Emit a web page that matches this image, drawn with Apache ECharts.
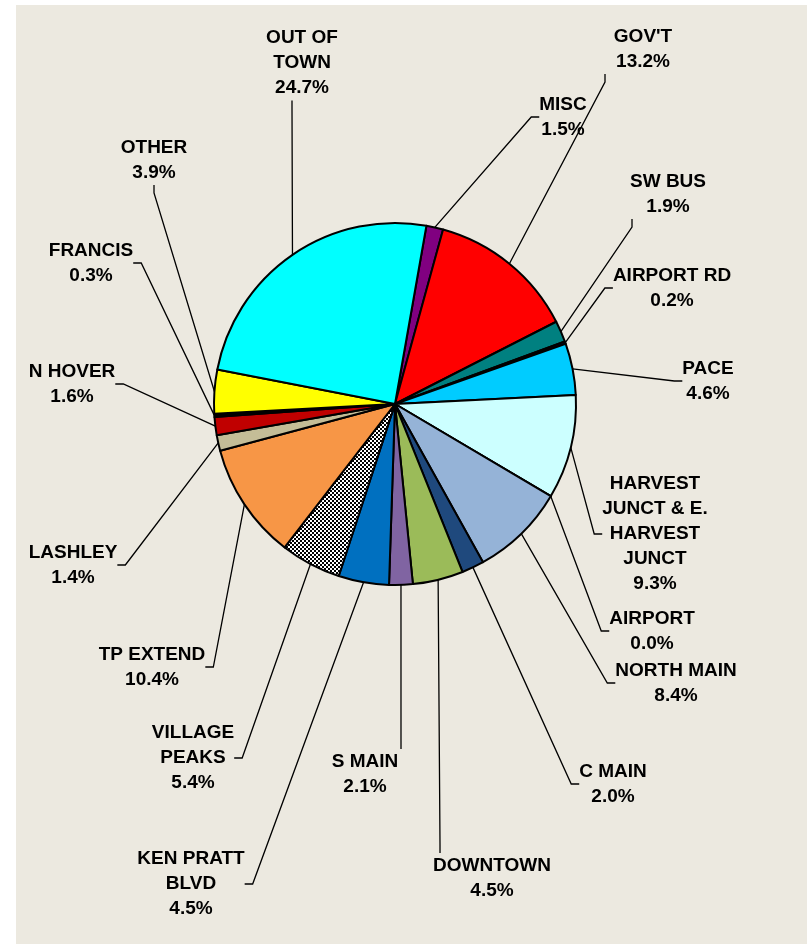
<!DOCTYPE html>
<html>
<head>
<meta charset="utf-8">
<script src="https://cdn.jsdelivr.net/npm/echarts@6/dist/echarts.min.js"></script>
<style>
    html, body { margin: 0; padding: 0; background: #fff; }
    #main {
        width: 807px;
        height: 944px;
        /* beige chart area, white strip on the left and top */
        background: linear-gradient(#ECE9E0, #ECE9E0) no-repeat 16px 5px / 791px 939px, #fff;
    }
</style>
</head>
<body>
<div id="main"></div>
<script>
// slices, clockwise from the MISC slice near 12 o'clock
const categories = ['MISC', "GOV'T", 'SW BUS', 'AIRPORT RD', 'PACE',
    'HARVEST\nJUNCT & E.\nHARVEST\nJUNCT', 'AIRPORT', 'NORTH MAIN', 'C MAIN', 'DOWNTOWN',
    'S MAIN', 'KEN PRATT\nBLVD', 'VILLAGE\nPEAKS', 'TP EXTEND', 'LASHLEY',
    'N HOVER', 'FRANCIS', 'OTHER', 'OUT OF\nTOWN'];
const shares = [1.5, 13.2, 1.9, 0.2, 4.6, 9.3, 0.0, 8.4, 2.0, 4.5,
    2.1, 4.5, 5.4, 10.4, 1.4, 1.6, 0.3, 3.9, 24.7];
const sliceColors = ['#800080', '#FF0000', '#008080', '#000080', '#00CCFF',
    '#CCFFFF', '#CCFFFF', '#95B3D7', '#1F497D', '#9BBB59',
    '#8064A2', '#0070C0', 'pattern', '#F79646', '#C4BD97',
    '#C00000', '#000000', '#FFFF00', '#00FFFF'];

// label text centres (px) around the pie
const labelCenters = [[563, 117], [643, 49], [668, 194], [672, 288], [708, 381],
    [655, 534], [652, 631], [676, 683], [613, 784], [492, 878],
    [365, 774], [191, 884], [193, 758], [152, 667], [73, 565],
    [72, 384], [91, 263], [154, 160], [302, 63]];
// invisible side padding [right, left] so the leader line meets the label
// on the same side as in the original
const labelPads = [[0, 0], [0, 76], [0, 72], [0, 0], [0, 0],
    [40, 0], [40, 0], [0, 0], [80, 0], [0, 104],
    [72, 0], [0, 130], [0, 100], [0, 80], [0, 0],
    [0, 0], [0, 0], [0, 0], [0, 20]];

// black / white checker for VILLAGE PEAKS
function makeChecker(){
    let c = document.createElement('canvas');
    c.width = 4; c.height = 4;
    let ctx = c.getContext('2d');
    ctx.fillStyle = '#fff';
    ctx.fillRect(0, 0, 4, 4);
    ctx.fillStyle = '#000';
    ctx.fillRect(0, 0, 2, 2);
    ctx.fillRect(2, 2, 2, 2);
    return c;
}
const checker = makeChecker();

let pieData = categories.map(function(name, i){
    let color = sliceColors[i] == 'pattern' ? { image: checker, repeat: 'repeat' } : sliceColors[i];
    let pad = labelPads[i];
    return {
        name: name,
        value: shares[i],
        itemStyle: { color: color },
        label: { padding: [0, pad[0], 0, pad[1]], backgroundColor: 'rgba(0,0,0,0)' }
    };
});

let chart = echarts.init(document.getElementById('main'));
chart.setOption({
    animation: false,
    series: [{
        type: 'pie',
        center: [395, 404],
        radius: 181,
        startAngle: 80,
        clockwise: true,
        avoidLabelOverlap: false,
        silent: true,
        itemStyle: {
            borderColor: '#000',
            borderWidth: 2
        },
        label: {
            show: true,
            formatter: function(p){ return p.name + '\n' + p.value.toFixed(1) + '%'; },
            fontFamily: '"Liberation Sans", Arial, sans-serif',
            fontWeight: 'bold',
            fontSize: 19,
            lineHeight: 25,
            color: '#000'
        },
        labelLine: {
            show: true,
            length: 10,
            length2: 8,
            minTurnAngle: 0,
            lineStyle: { color: '#000', width: 1.3 }
        },
        labelLayout: function(params){
            let p = labelCenters[params.dataIndex];
            let pad = labelPads[params.dataIndex];
            // centre of the padded box so that the text itself lands on p
            return {
                x: p[0] + (pad[0] - pad[1]) / 2,
                y: p[1],
                align: 'center',
                verticalAlign: 'middle'
            };
        },
        emphasis: { disabled: true },
        data: pieData
    }]
});
</script>
</body>
</html>
